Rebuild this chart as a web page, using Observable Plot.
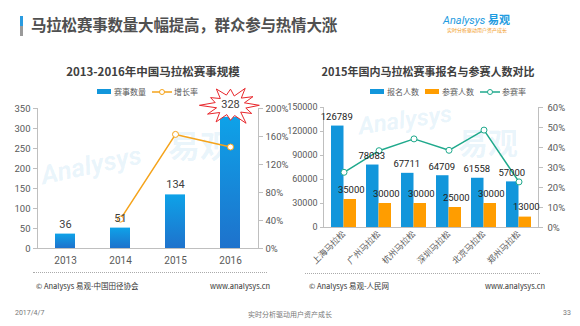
<!DOCTYPE html>
<html>
<head>
<meta charset="utf-8">
<script src="https://cdn.jsdelivr.net/npm/d3@7"></script>
<script src="https://cdn.jsdelivr.net/npm/@observablehq/plot@0.6"></script>
<style>
  html, body { margin: 0; padding: 0; background: #fff; }
  #page { position: relative; width: 580px; height: 326px; overflow: hidden; background: #fff;
          font-family: Roboto, "Noto Sans CJK SC", sans-serif; color: #404040; }
  .abs { position: absolute; white-space: nowrap; }
  .ctitle { font-family: "Noto Sans CJK SC", sans-serif; font-weight: bold; color: #404040; transform: translateX(-50%); }
  .legend { display: flex; align-items: center; font-family: "Noto Sans CJK SC", sans-serif; font-size: 8px; color: #595959; }
  .legend span { margin-right: 6px; }
  .src { font-family: "Noto Sans CJK SC", Roboto, sans-serif; font-size: 7.5px; color: #333; }
  .sep { position: absolute; height: 0; border-top: 1px dotted #aaa; }
  .wm { position: absolute; white-space: nowrap; color: rgba(40,150,220,0.10); font-weight: bold; pointer-events: none; line-height: 1; }
</style>
</head>
<body>
<div id="page">
  <div class="abs" style="left:20px;top:16px;width:3px;height:10px;background:#2a9be0"></div>
  <div class="abs" style="left:20px;top:26px;width:3px;height:10px;background:#9a9a9a"></div>
  <div class="abs" id="title" style="left:31px;top:13px;font-family:'Noto Sans CJK SC';font-weight:bold;font-size:15.5px;color:#505050;letter-spacing:-0.2px">马拉松赛事数量大幅提高，群众参与热情大涨</div>
  <div class="abs" style="left:443px;top:11px;font-size:11px;color:#1e9be0;font-style:italic;font-family:Roboto,sans-serif">Analysys <span style="font-style:normal;font-weight:bold;font-family:'Noto Sans CJK SC'">易观</span></div>
  <div class="abs" style="left:447px;top:26px;font-size:5px;color:#f29c1f;font-family:'Noto Sans CJK SC'">实时分析驱动用户资产成长</div>

  <div class="wm" style="left:168px;top:128px;font-size:32px;font-family:'Noto Sans CJK SC'">易观</div>
  <div class="wm" style="left:40px;top:152px;font-size:26px;font-style:italic;transform:rotate(-12deg);font-family:Roboto">Analysys</div>
  <div class="wm" style="left:458px;top:126px;font-size:30px;font-family:'Noto Sans CJK SC'">易观</div>
  <div class="wm" style="left:358px;top:108px;font-size:24px;font-style:italic;transform:rotate(-8deg);font-family:Roboto">Analysys</div>

  <div class="abs ctitle" style="left:153px;top:63px;font-size:11.5px">2013-2016年中国马拉松赛事规模</div>
  <div class="abs ctitle" style="left:428px;top:63px;font-size:11px">2015年国内马拉松赛事报名与参赛人数对比</div>

  <div class="abs legend" id="legL" style="left:97px;top:86px"></div>
  <div class="abs legend" id="legR" style="left:370px;top:86px"></div>

  <div class="abs" id="chartL" style="left:0;top:95px"></div>
  <div class="abs" id="chartR" style="left:290px;top:95px"></div>

  <div class="sep" style="left:33px;top:272px;width:234px"></div>
  <div class="sep" style="left:305px;top:273px;width:235px"></div>
  <div class="abs src" style="left:36px;top:280px">© Analysys 易观-中国田径协会</div>
  <div class="abs src" style="left:210px;top:280px">www.analysys.cn</div>
  <div class="abs src" style="left:309px;top:280px">© Analysys 易观-人民网</div>
  <div class="abs src" style="left:485px;top:280px">www.analysys.cn</div>

  <div class="abs" style="left:15px;top:309px;font-size:7px;color:#777">2017/4/7</div>
  <div class="abs" style="left:290px;top:309px;font-size:7px;color:#777;transform:translateX(-50%);font-family:'Noto Sans CJK SC'">实时分析驱动用户资产成长</div>
  <div class="abs" style="left:563px;top:309px;font-size:7px;color:#777">33</div>
</div>
<script>
// ---------- data ----------
const years = ["2013", "2014", "2015", "2016"];
const raceCounts = [36, 51, 134, 328];
const growthRates = [null, 0.42, 1.63, 1.45];
const countTicks = [0, 50, 100, 150, 200, 250, 300, 350];
const growthTicks = [0, 0.4, 0.8, 1.2, 1.6, 2.0];

const cities = ["上海马拉松", "广州马拉松", "杭州马拉松", "深圳马拉松", "北京马拉松", "郑州马拉松"];
const registered = [126789, 78083, 67711, 64709, 61558, 57000];
const participants = [35000, 30000, 30000, 25000, 30000, 13000];
const participationRates = [0.276, 0.384, 0.443, 0.386, 0.487, 0.228];
const peopleTicks = [0, 30000, 60000, 90000, 120000, 150000];
const rateTicks = [0, 0.1, 0.2, 0.3, 0.4, 0.5, 0.6];

const legendLeft = ["赛事数量", "增长率"];
const legendRight = ["报名人数", "参赛人数", "参赛率"];

// ---------- colours ----------
const BLUE = "#1296db", ORANGE = "#ff9d00", LINE_OR = "#f5a31a", TEAL = "#1fa98c", RED = "#e8262b";
const AXIS = "#bfbfbf", TXT = "#595959";
const FONT = 'Roboto, "Noto Sans CJK SC", sans-serif';

// ---------- legends ----------
function swatch(color) {
  return `<svg width="14" height="5" style="margin-right:3px"><rect width="14" height="5" fill="${color}"/></svg>`;
}
function lineSwatch(color) {
  return `<svg width="20" height="8" style="margin-right:2px"><line x1="0" x2="20" y1="4" y2="4" stroke="${color}" stroke-width="1.5"/><circle cx="10" cy="4" r="2.5" fill="white" stroke="${color}" stroke-width="1"/></svg>`;
}
document.getElementById("legL").innerHTML =
  swatch(BLUE) + `<span>${legendLeft[0]}</span>` + lineSwatch(LINE_OR) + `<span>${legendLeft[1]}</span>`;
document.getElementById("legR").innerHTML =
  swatch(BLUE) + `<span>${legendRight[0]}</span>` + swatch(ORANGE) + `<span>${legendRight[1]}</span>` +
  lineSwatch(TEAL) + `<span>${legendRight[2]}</span>`;

// ---------- helpers ----------
const gradientDefs = () => {
  const d = d3.create("svg:defs");
  const g = d.append("linearGradient").attr("id", "barGradL").attr("x1", 0).attr("y1", 0).attr("x2", 0).attr("y2", 1);
  g.append("stop").attr("offset", "0%").attr("stop-color", "#0ea2e8");
  g.append("stop").attr("offset", "100%").attr("stop-color", "#1e72cc");
  return d.node();
};
const burstFactors = [1.0, 0.55, 0.85, 0.5, 1.08, 0.55, 0.78, 0.5, 1.0, 0.53, 0.92, 0.5,
                      1.08, 0.55, 0.8, 0.5, 0.98, 0.55, 0.84, 0.5, 1.02, 0.53, 0.9, 0.5];
const burst = {
  draw(ctx, size) {
    const R = Math.sqrt(size / Math.PI);
    const n = burstFactors.length;
    for (let i = 0; i < n; i++) {
      const a = (i / n) * 2 * Math.PI;
      const f = burstFactors[i];
      const x = Math.cos(a) * R * 1.2 * f, y = Math.sin(a) * R * 0.8 * f;
      if (i === 0) ctx.moveTo(x, y); else ctx.lineTo(x, y);
    }
    ctx.closePath();
  }
};

// ---------- left chart ----------
const leftData = years.map((y, i) => ({year: y, count: raceCounts[i], rate: growthRates[i]}));
const K1 = 350 / 2.0;
const chartL = Plot.plot({
  width: 290, height: 175,
  marginTop: 13, marginBottom: 22, marginLeft: 37, marginRight: 32,
  style: {fontFamily: FONT, fontSize: "9px", color: TXT, background: "transparent", overflow: "visible"},
  x: {domain: years, paddingInner: 0.64, paddingOuter: 0.32, label: null},
  y: {domain: [0, 350], label: null},
  marks: [
    gradientDefs,
    Plot.barY(leftData, {x: "year", y: "count", fill: "url(#barGradL)"}),
    Plot.ruleY([0], {stroke: AXIS}),
    Plot.frame({anchor: "left", stroke: AXIS}),
    Plot.frame({anchor: "right", stroke: AXIS}),
    Plot.axisY({ticks: countTicks, anchor: "left", tickSize: 4, tickPadding: 3, stroke: AXIS, color: TXT, fontSize: 9.5, label: null}),
    Plot.axisY({ticks: growthTicks.map(t => t * K1), anchor: "right", tickSize: 4, tickPadding: 3, stroke: AXIS, color: TXT, fontSize: 9.5, label: null,
                tickFormat: v => Math.round(v / K1 * 100) + "%"}),
    Plot.axisX({tickSize: 0, tickPadding: 8, color: TXT, fontSize: 10, label: null}),
    Plot.line(leftData.filter(d => d.rate != null), {x: "year", y: d => d.rate * K1, stroke: LINE_OR, strokeWidth: 1.5}),
    Plot.dot(leftData.filter(d => d.rate != null), {x: "year", y: d => d.rate * K1, r: 3, fill: "white", stroke: LINE_OR, strokeWidth: 1}),
    Plot.text(leftData.filter(d => d.year !== "2016"), {x: "year", y: "count", text: d => String(d.count), dy: -10, fontSize: 11, fill: "#404040"}),
    Plot.dot(leftData.filter(d => d.year === "2016"), {x: "year", y: "count", symbol: burst, r: 24, dy: -12, fill: "white", stroke: RED, strokeWidth: 1}),
    Plot.text(leftData.filter(d => d.year === "2016"), {x: "year", y: "count", text: d => String(d.count), dy: -13, fontSize: 11, fill: "#404040"})
  ]
});
document.getElementById("chartL").append(chartL);

// ---------- right chart ----------
const rightData = cities.map((c, i) => ({city: c, reg: registered[i], part: participants[i], rate: participationRates[i]}));
const K2 = 150000 / 0.6;
const half = 12.5;
const chartR = Plot.plot({
  width: 290, height: 182,
  marginTop: 12, marginBottom: 50, marginLeft: 33, marginRight: 42,
  style: {fontFamily: FONT, fontSize: "9px", color: TXT, background: "transparent", overflow: "visible"},
  x: {domain: cities, paddingInner: 0.3, paddingOuter: 0.15, label: null},
  y: {domain: [0, 150000], label: null},
  marks: [
    Plot.barY(rightData, {x: "city", y: "reg", fill: BLUE, insetRight: half}),
    Plot.barY(rightData, {x: "city", y: "part", fill: ORANGE, insetLeft: half}),
    Plot.ruleY([0], {stroke: AXIS}),
    Plot.frame({anchor: "left", stroke: AXIS}),
    Plot.frame({anchor: "right", stroke: AXIS}),
    Plot.axisY({ticks: peopleTicks, anchor: "left", tickSize: 3, tickPadding: 3, stroke: AXIS, color: TXT, fontSize: 9, label: null, tickFormat: d => String(d)}),
    Plot.axisY({ticks: rateTicks.map(t => t * K2), anchor: "right", tickSize: 4, tickPadding: 5, stroke: AXIS, color: TXT, fontSize: 9.5, label: null,
                tickFormat: v => Math.round(v / K2 * 100) + "%"}),
    Plot.axisX({tickSize: 0, tickPadding: 5, tickRotate: -45, color: TXT, fontSize: 8.5, fontFamily: '"Noto Sans CJK SC"', label: null}),
    Plot.line(rightData, {x: "city", y: d => d.rate * K2, stroke: TEAL, strokeWidth: 1.5}),
    Plot.dot(rightData, {x: "city", y: d => d.rate * K2, r: 3, fill: "white", stroke: TEAL, strokeWidth: 1}),
    Plot.text(rightData, {x: "city", y: "reg", text: d => String(d.reg), dx: -half / 2 - 1, dy: -9, fontSize: 9.5, fill: "#222"}),
    Plot.text(rightData, {x: "city", y: "part", text: d => String(d.part), dx: half / 2 + 1, dy: -10, fontSize: 9.5, fill: "#222"})
  ]
});
document.getElementById("chartR").append(chartR);
</script>
</body>
</html>
